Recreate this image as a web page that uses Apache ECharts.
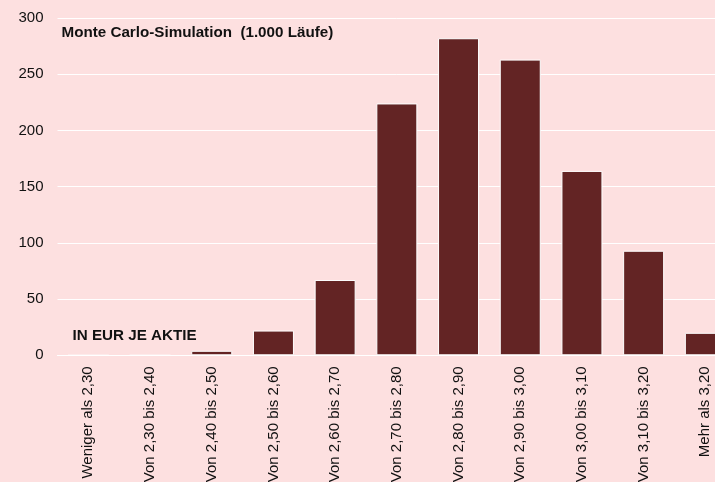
<!DOCTYPE html>
<html>
<head>
<meta charset="utf-8">
<script src="https://cdn.jsdelivr.net/npm/echarts@6/dist/echarts.min.js"></script>
<style>
html,body{margin:0;padding:0;background:#fde0e0;overflow:hidden;}
#c{width:740px;height:482px;}
</style>
</head>
<body>
<div id="c"></div>
<script>
const categories = ["Weniger als 2,30","Von 2,30 bis 2,40","Von 2,40 bis 2,50","Von 2,50 bis 2,60","Von 2,60 bis 2,70","Von 2,70 bis 2,80","Von 2,80 bis 2,90","Von 2,90 bis 3,00","Von 3,00 bis 3,10","Von 3,10 bis 3,20","Mehr als 3,20"];
const counts = [0, 0, 4, 22, 67, 224, 282, 263, 164, 93, 20];
const titleText = "Monte Carlo-Simulation  (1.000 Läufe)";
const unitText = "IN EUR JE AKTIE";

const chart = echarts.init(document.getElementById('c'), null, {renderer:'canvas'});
const font = 'Liberation Sans, Arial, sans-serif';
chart.setOption({
  backgroundColor: '#fde0e0',
  animation: false,
  grid: {left: 57.5, top: 18, right: 3.8, height: 337.3, containLabel: false, outerBoundsMode: 'none'},
  xAxis: {
    type: 'category',
    data: categories,
    axisLine: {show: true, lineStyle: {color: '#ffffff', width: 1}},
    axisTick: {show: false},
    axisLabel: {rotate: 90, margin: 11, fontSize: 15, color: '#111', fontFamily: font, interval: 0}
  },
  yAxis: {
    type: 'value',
    min: 0, max: 300, interval: 50,
    axisLine: {show: false},
    axisTick: {show: false},
    splitLine: {lineStyle: {color: '#ffffff', width: 1}},
    axisLabel: {fontSize: 15, color: '#111', fontFamily: font, margin: 14}
  },
  series: [{
    type: 'bar',
    data: counts,
    barWidth: 41,
    itemStyle: {color: '#632424', borderColor: '#ffffff', borderWidth: 1}
  }],
  graphic: [
    {type: 'text', left: 61.5, top: 25, style: {text: titleText, font: 'bold 15.2px ' + font, fill: '#111'}},
    {type: 'text', left: 72.5, top: 328, style: {text: unitText, font: 'bold 15.2px ' + font, fill: '#111'}}
  ]
});
</script>
</body>
</html>
